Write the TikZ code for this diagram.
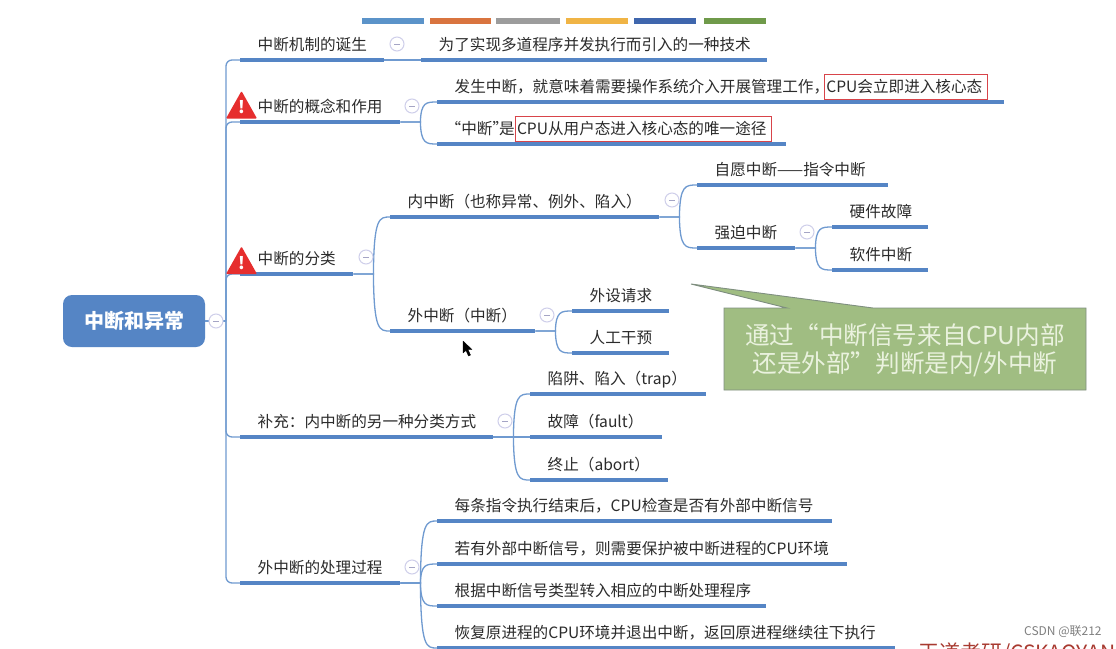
\documentclass[tikz,border=0pt]{standalone}
\usepackage{fontspec}
\setmainfont{Noto Sans CJK SC}
\usepackage{xcolor}
\usetikzlibrary{calc}
\definecolor{cbar}{HTML}{5585C5}
\definecolor{clink}{HTML}{6F9AD0}
\definecolor{ink}{HTML}{2B2B2B}
\definecolor{cfold}{HTML}{CFCFEA}
\definecolor{cfoldbar}{HTML}{A5A5C5}
\definecolor{cwarn}{HTML}{E62E2E}
\definecolor{cmark}{HTML}{D8444A}
\definecolor{cnote}{HTML}{A0BD82}
\definecolor{cnoteline}{HTML}{7F8F80}
\definecolor{cnotetext}{HTML}{EAF2DE}
\definecolor{cbrand}{HTML}{A83A30}
\setlength{\fboxsep}{1.5pt}
\setlength{\fboxrule}{0.8pt}
\newcommand{\markbox}[1]{\fcolorbox{cmark}{white}{\rule[-4.5pt]{0pt}{21.5pt}#1\hspace{3pt}}}
\begin{document}
\begin{tikzpicture}[x=1pt,y=-1pt,
    topic/.style={anchor=south west,inner sep=0pt,minimum height=27pt,text height=12pt,text depth=3pt,
      font=\fontsize{15.6}{18}\selectfont,text=ink},
    bar/.style={cbar,line width=3.4pt},
    branch/.style={clink,line width=1.3pt,
      to path={let \p1=(\tikztostart),\p2=(\tikztotarget) in -- (\x1+20pt,\y1)
        .. controls (\x1+20.5pt,\y2) and (\x1+26pt,\y2) .. (\p2)}},
    stem/.style={clink,line width=1.3pt,rounded corners=6pt},
    fold/.style={circle,draw=cfold,fill=white,line width=1pt,inner sep=0pt,minimum size=14pt,
      path picture={\draw[cfoldbar,line width=1pt] ([xshift=-3pt]path picture bounding box.center)
        -- ([xshift=3pt]path picture bounding box.center);}}]
  \useasboundingbox (0,0) rectangle (1116,648);
  \fill[white] (0,0) rectangle (1116,648);
  % colour strip
  \foreach \nm/\xa/\xb/\cc in {s1/362/424/5B93C9, s2/430/491/D9743F, s3/496/560/9C9C9C,
      s4/566/628/F0B445, s5/634/696/3F66AD, s6/704/766/6F9A4A} {
    \definecolor{cstrip}{HTML}{\cc}
    \coordinate (\nm) at (\xa,18);
    \fill[cstrip] (\nm) rectangle (\xb,23.5);
  }
  \node[fill=cbar,rounded corners=9pt,minimum width=142pt,minimum height=52pt,inner sep=0pt,
    text=white,font=\fontsize{20}{24}\selectfont\bfseries] (root) at (134,321) {\raisebox{-2pt}{中断和异常}};
  \foreach \nm/\xa/\xb/\yb/\txt in {
      birth/240/384/60/中断机制的诞生,
      why/421/767/60/为了实现多道程序并发执行而引入的一种技术,
      idea/240/400/122/中断的概念和作用,
      ideaA/437/1004/102/发生中断，就意味着需要操作系统介入开展管理工作，\hspace{-5pt}\markbox{CPU会立即进入核心态},
      ideaB/437/786/144/\hspace{-9pt}“中断”\hspace{-9pt}是\markbox{CPU从用户态进入核心态的唯一途径},
      kind/240/353/274/中断的分类,
      inner/390/659/217/内中断（也称异常、例外、陷入）,
      outer/390/535/331/外中断（中断）,
      will/697/888/185/自愿中断——指令中断,
      force/697/795/248/强迫中断,
      hard/832/928/227/硬件故障,
      soft/832/928/270/软件中断,
      dev/572/669/311/外设请求,
      hand/572/669/353/人工干预,
      extra/240/493/437/补充：内中断的另一种分类方式,
      trap/530/706/394/陷阱、陷入（trap）,
      fault/530/662/437/故障（fault）,
      abort/530/668/480/终止（abort）,
      proc/240/400/583/外中断的处理过程,
      procA/437/832/521/每条指令执行结束后，CPU检查是否有外部中断信号,
      procB/437/847/564/若有外部中断信号，则需要保护被中断进程的CPU环境,
      procC/437/766/606/根据中断信号类型转入相应的中断处理程序,
      procD/437/895/648/恢复原进程的CPU环境并退出中断，返回原进程继续往下执行} {
    \pgfmathsetmacro{\barw}{\xb-\xa}
    \node[topic] (\nm) at (\xa,\yb) {\makebox[\barw pt][l]{\hspace{17.5pt}\txt}};
    \draw[bar] (\nm.south west) -- (\nm.south east);
  }
  % main stem
  \coordinate (trunk) at (226,321);
  \draw[clink,line width=1.3pt] (root) -- (trunk);
  \foreach \nm in {birth,idea,kind,extra,proc}
    \draw[stem] (trunk) |- (\nm.south west);
  % branches
  \foreach \aa/\bb in {birth/why, idea/ideaA, idea/ideaB, kind/inner, kind/outer,
      inner/will, inner/force, force/hard, force/soft, outer/dev, outer/hand,
      extra/trap, extra/fault, extra/abort, proc/procA, proc/procB, proc/procC, proc/procD}
    \draw[branch] (\aa.south east) to (\bb.south west);
  \foreach \nm/\x/\y in {f0/216/321, f1/397/44, f2/412/106, f3/366/257, f4/672/200, f5/807/232,
      f6/547/315, f7/505/421, f8/412/567}
    \node[fold] (\nm) at (\x,\y) {};
  % warnings
  \foreach \nm/\y in {w1/118.5, w2/274} {
    \fill[cwarn,rounded corners=1pt] (226,\y) -- (241.5,\y-27.5) -- (257,\y) -- cycle;
    \node[text=white,font=\fontsize{17}{18}\selectfont\bfseries,inner sep=0pt] (\nm) at (241.5,\y-11) {!};
  }
  % note
  \draw[fill=cnote,draw=cnoteline,line width=0.9pt] (724,308) -- (787,308) -- (691,284) -- (873,308)
    -- (1086,308) -- (1086,390) -- (724,390) -- cycle;
  \node[text=cnotetext,align=center,inner sep=0pt,font=\fontsize{24.6}{28}\selectfont] (note) at (905,350.5)
    {通过“中断信号来自CPU内部\\还是外部”判断是内/外中断};
  % cursor
  \draw[black,fill=black,line width=0.3pt,line join=round] (463,341) -- (463,353) -- (466,350.5) -- (468.5,356)
    -- (470.5,355) -- (468,349.5) -- (472,349.5) -- cycle;
  \node[anchor=north west,inner sep=0pt,text=cbrand,font=\fontsize{21}{24}\selectfont] (brand) at (918,643) {王道考研/CSKAOYAN};
  \node[anchor=west,inner sep=0pt,text=black!50,font=\fontsize{12}{14}\selectfont] (mark) at (1024,632) {CSDN @联212};
\end{tikzpicture}
\end{document}
